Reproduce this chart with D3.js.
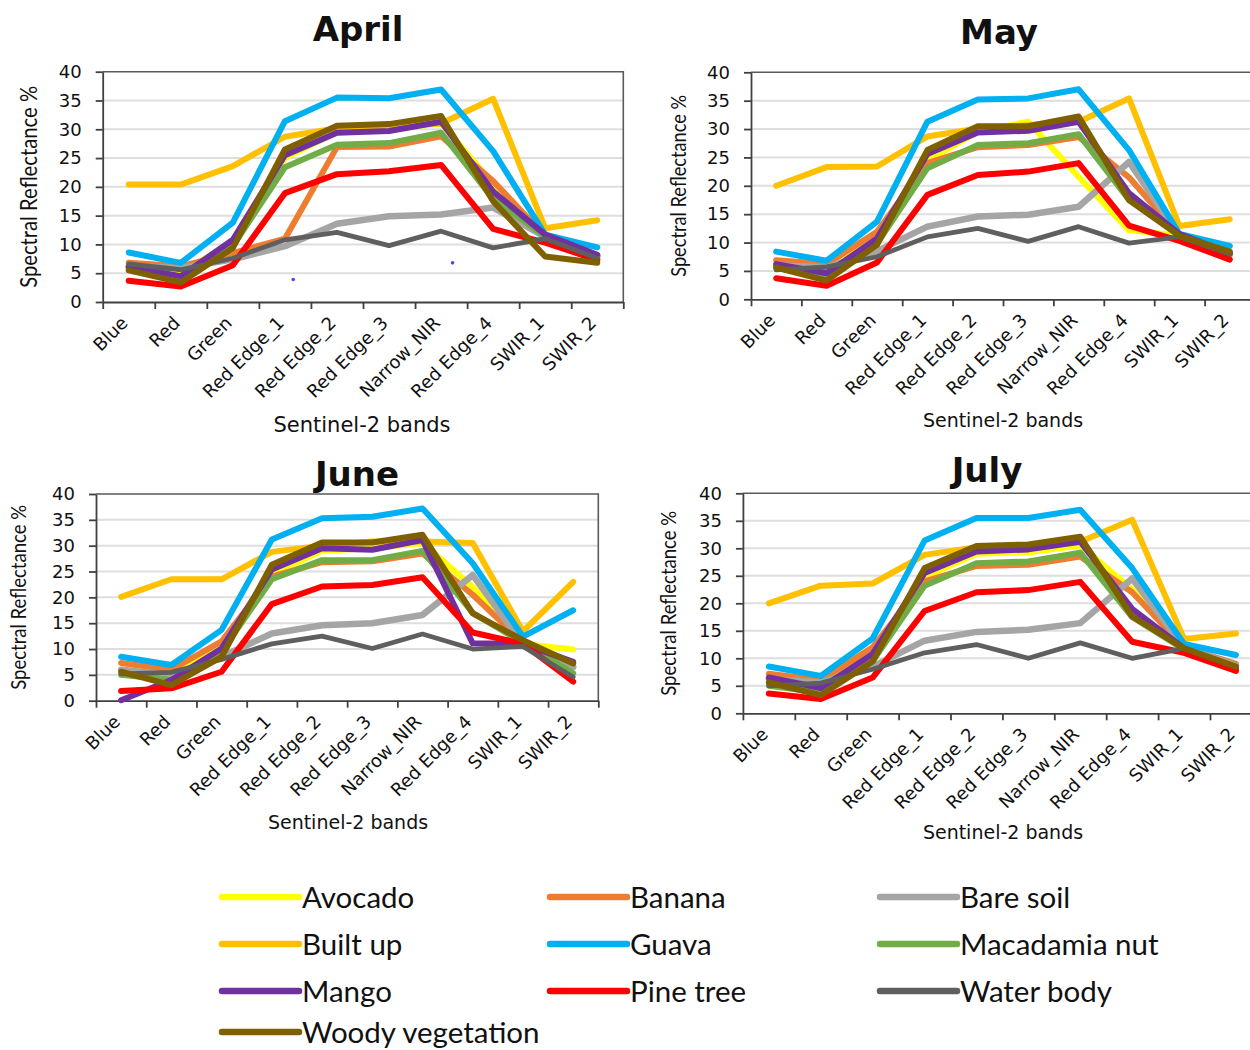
<!DOCTYPE html>
<html>
<head>
<meta charset="utf-8">
<script src="https://cdn.jsdelivr.net/npm/d3@7"></script>
<style>
  body { margin: 0; background: #fff; }
  svg { display: block; }
</style>
</head>
<body>
<svg id="chart" width="1250" height="1050"></svg>
<script>
// Sentinel-2 bands on the x axis
const bands = ["Blue", "Red", "Green", "Red Edge_1", "Red Edge_2", "Red Edge_3",
               "Narrow_NIR", "Red Edge_4", "SWIR_1", "SWIR_2"];

// Land-cover classes, in legend / drawing order
const classes = ["Avocado", "Banana", "Bare soil", "Built up", "Guava",
                 "Macadamia nut", "Mango", "Pine tree", "Water body", "Woody vegetation"];
const classColors = ["#FFFF00", "#ED7D31", "#A5A5A5", "#FFC000", "#00B0F0",
                     "#70AD47", "#7030A0", "#FF0000", "#5F5F5F", "#7F6000"];

const yTicks = [0, 5, 10, 15, 20, 25, 30, 35, 40];

// Spectral reflectance (%) per class, one row per class in the order above
const aprilValues = [
  [6.0, 5.0, 10.5, 25.0, 29.5, 30.0, 31.0, 20.5, 11.5, 8.0],
  [6.8, 6.2, 8.5, 11.0, 26.9, 27.0, 28.8, 21.0, 11.4, 7.6],
  [6.2, 5.9, 7.4, 9.7, 13.6, 14.9, 15.2, 16.4, 11.3, 7.9],
  [20.4, 20.4, 23.6, 28.7, 30.2, 30.6, 31.0, 35.3, 12.8, 14.2],
  [8.6, 6.8, 13.8, 31.4, 35.5, 35.4, 36.9, 26.2, 11.7, 9.5],
  [5.7, 3.9, 9.7, 23.4, 27.3, 27.6, 29.4, 17.9, 11.4, 8.0],
  [6.1, 4.5, 10.8, 25.5, 29.4, 29.7, 31.3, 19.2, 11.7, 8.2],
  [3.7, 2.7, 6.4, 18.9, 22.2, 22.7, 23.8, 12.7, 10.3, 7.3],
  [6.6, 5.6, 7.6, 10.8, 12.1, 9.8, 12.3, 9.4, 11.0, 7.6],
  [5.5, 3.4, 9.4, 26.5, 30.6, 30.9, 32.3, 17.5, 7.9, 6.8]
];

const mayValues = [
  [6.0, 6.5, 10.5, 24.5, 29.5, 31.3, 21.6, 12.2, 11.2, 8.0],
  [6.9, 6.2, 11.9, 24.0, 26.8, 27.2, 28.6, 21.5, 11.3, 7.8],
  [6.0, 5.6, 8.5, 12.8, 14.6, 14.9, 16.3, 24.2, 11.2, 8.0],
  [20.0, 23.3, 23.4, 28.7, 30.1, 30.7, 31.3, 35.4, 12.9, 14.1],
  [8.4, 6.8, 13.7, 31.3, 35.2, 35.4, 37.0, 26.3, 11.5, 9.4],
  [5.5, 4.0, 9.8, 23.1, 27.2, 27.5, 29.1, 17.5, 11.3, 8.0],
  [6.2, 4.6, 10.7, 25.6, 29.4, 29.7, 31.3, 18.7, 11.5, 8.1],
  [3.7, 2.4, 6.5, 18.4, 21.9, 22.5, 24.0, 13.0, 10.3, 7.0],
  [5.2, 5.7, 7.5, 11.0, 12.5, 10.2, 12.8, 9.9, 11.0, 8.0],
  [5.6, 3.3, 9.6, 26.3, 30.5, 30.5, 32.2, 17.5, 11.2, 8.4]
];

const juneValues = [
  [6.0, 5.8, 10.0, 24.5, 29.0, 29.5, 30.5, 22.0, 11.0, 9.9],
  [7.3, 6.0, 11.5, 24.0, 26.8, 27.0, 28.5, 20.5, 11.3, 6.5],
  [6.0, 5.0, 8.5, 13.0, 14.6, 15.0, 16.6, 24.3, 11.0, 6.5],
  [20.1, 23.5, 23.5, 28.8, 30.0, 30.8, 30.8, 30.5, 13.4, 23.0],
  [8.5, 6.9, 13.7, 31.2, 35.3, 35.6, 37.2, 26.6, 12.4, 17.5],
  [5.0, 4.0, 9.5, 23.5, 27.2, 27.2, 29.0, 17.0, 11.2, 5.3],
  [0.1, 4.0, 10.1, 25.4, 29.5, 29.2, 31.1, 11.1, 11.0, 7.5],
  [1.9, 2.4, 5.6, 18.7, 22.1, 22.4, 23.9, 13.2, 11.0, 3.7],
  [5.2, 5.5, 8.0, 11.0, 12.5, 10.1, 12.9, 10.0, 10.5, 4.6],
  [5.6, 3.0, 8.5, 26.3, 30.6, 30.6, 32.1, 16.9, 11.7, 7.2]
];

const julyValues = [
  [6.0, 6.0, 10.5, 24.8, 29.0, 29.3, 30.5, 22.5, 12.0, 8.5],
  [7.2, 6.0, 12.0, 24.0, 26.8, 27.0, 28.5, 22.0, 12.0, 9.0],
  [6.2, 5.6, 8.5, 13.2, 14.8, 15.2, 16.4, 24.5, 12.0, 8.7],
  [20.0, 23.2, 23.6, 28.8, 30.2, 30.5, 31.2, 35.2, 13.5, 14.5],
  [8.5, 6.8, 13.6, 31.4, 35.5, 35.5, 37.0, 26.4, 12.6, 10.6],
  [5.0, 3.8, 9.5, 23.2, 27.3, 27.6, 29.2, 17.5, 11.6, 8.3],
  [6.5, 4.6, 10.8, 25.5, 29.4, 29.8, 31.2, 19.0, 11.8, 8.3],
  [3.6, 2.6, 6.5, 18.6, 22.0, 22.4, 23.9, 13.0, 11.0, 7.7],
  [5.0, 5.5, 8.0, 11.0, 12.5, 10.0, 12.8, 10.0, 11.8, 8.5],
  [5.6, 3.3, 9.4, 26.4, 30.4, 30.7, 32.1, 17.6, 11.8, 8.5]
];

// Two stray marker dots in the April panel: [band position, reflectance]
const aprilStrayPoints = [[3.66, 3.9], [6.72, 6.8]];

// Panel layout (pixel frame of each plot area and its text)
const panels = [
  { title: "April", values: aprilValues, stray: aprilStrayPoints,
    left: 102.7, right: 623.3, top: 71.7, bottom: 302,
    titleX: 358, titleY: 41, yLabelX: 37, yLabelSize: 24, yLabelLen: 202,
    xTitleX: 362, xTitleY: 432, xTitleSize: 21 },
  { title: "May", values: mayValues, stray: [],
    left: 751, right: 1255, top: 72.3, bottom: 299.3,
    titleX: 999, titleY: 44, yLabelX: 686, yLabelSize: 21.5, yLabelLen: 182,
    xTitleX: 1003, xTitleY: 427, xTitleSize: 19 },
  { title: "June", values: juneValues, stray: [],
    left: 96, right: 598.3, top: 494, bottom: 700.7,
    titleX: 357, titleY: 486, yLabelX: 26, yLabelSize: 22, yLabelLen: 185,
    xTitleX: 348, xTitleY: 829, xTitleSize: 19 },
  { title: "July", values: julyValues, stray: [],
    left: 742.9, right: 1261.9, top: 493.3, bottom: 713.3,
    titleX: 987, titleY: 482, yLabelX: 676, yLabelSize: 22, yLabelLen: 185,
    xTitleX: 1003, xTitleY: 839, xTitleSize: 19 }
];

const svg = d3.select("#chart");
const axisColor = "#404040";

panels.forEach(p => {
  const g = svg.append("g");
  const x = d3.scaleBand().domain(bands).range([p.left, p.right]).padding(0);
  const xEdge = d3.scaleLinear().domain([0, bands.length]).range([p.left, p.right]);
  const y = d3.scaleLinear().domain([0, 40]).range([p.bottom, p.top]);
  const cx = b => x(b) + x.bandwidth() / 2;

  // Horizontal gridlines
  g.append("g").selectAll("line")
    .data(yTicks.filter(t => t > 0 && t < 40))
    .join("line")
    .attr("x1", p.left).attr("x2", p.right)
    .attr("y1", d => y(d)).attr("y2", d => y(d))
    .attr("stroke", "#dedede").attr("stroke-width", 2);

  // Plot frame (top and right edges)
  g.append("path")
    .attr("d", `M${p.left},${y(40)}H${p.right}V${p.bottom}`)
    .attr("fill", "none").attr("stroke", "#5a5a5a").attr("stroke-width", 1.6);

  // Y axis
  const yAxis = g.append("g")
    .attr("transform", `translate(${p.left},0)`)
    .call(d3.axisLeft(y).tickValues(yTicks).tickSize(7).tickSizeOuter(0).tickPadding(14));
  yAxis.select(".domain").attr("stroke", axisColor).attr("stroke-width", 1.8);
  yAxis.selectAll(".tick line").attr("stroke", axisColor).attr("stroke-width", 1.8);
  yAxis.selectAll(".tick text")
    .attr("font-family", "DejaVu Sans, Verdana, sans-serif")
    .attr("font-size", 18).attr("fill", "#111");

  // X axis: ticks sit on band boundaries
  const xAxis = g.append("g")
    .attr("transform", `translate(0,${p.bottom})`)
    .call(d3.axisBottom(xEdge).tickValues(d3.range(0, bands.length + 1))
      .tickSize(7).tickSizeOuter(0).tickFormat(""));
  xAxis.select(".domain").attr("stroke", axisColor).attr("stroke-width", 1.8);
  xAxis.selectAll(".tick line").attr("stroke", axisColor).attr("stroke-width", 1.8);

  // Rotated band names
  g.append("g").selectAll("text")
    .data(bands)
    .join("text")
    .attr("transform", d => `translate(${cx(d) - 9},${p.bottom + 13}) rotate(-45)`)
    .attr("text-anchor", "end")
    .attr("dy", "0.72em")
    .attr("font-family", "DejaVu Sans, Verdana, sans-serif")
    .attr("font-size", 18).attr("fill", "#111")
    .text(d => d);

  // Spectral curves
  const line = d3.line()
    .x((d, i) => cx(bands[i]))
    .y(d => y(d));
  g.append("g").selectAll("path")
    .data(p.values)
    .join("path")
    .attr("d", d => line(d))
    .attr("fill", "none")
    .attr("stroke", (d, i) => classColors[i])
    .attr("stroke-width", (d, i) => classes[i] === "Water body" ? 4.8 : (classes[i] === "Bare soil" ? 6.5 : 6))
    .attr("stroke-linejoin", "round")
    .attr("stroke-linecap", "round");

  // Stray marker dots
  g.append("g").selectAll("circle")
    .data(p.stray)
    .join("circle")
    .attr("cx", d => xEdge(d[0]))
    .attr("cy", d => y(d[1]))
    .attr("r", 1.8)
    .attr("fill", "#4646ff");

  // Titles
  g.append("text")
    .attr("x", p.titleX).attr("y", p.titleY)
    .attr("text-anchor", "middle")
    .attr("font-family", "DejaVu Sans, sans-serif")
    .attr("font-weight", "bold").attr("font-size", 34).attr("fill", "#111")
    .text(p.title);

  g.append("text")
    .attr("transform", `translate(${p.yLabelX},${(p.top + p.bottom) / 2}) rotate(-90)`)
    .attr("text-anchor", "middle")
    .attr("font-family", "Lato, sans-serif")
    .attr("font-size", p.yLabelSize).attr("fill", "#111")
    .attr("textLength", p.yLabelLen).attr("lengthAdjust", "spacingAndGlyphs")
    .text("Spectral Reflectance %");

  g.append("text")
    .attr("x", p.xTitleX).attr("y", p.xTitleY)
    .attr("text-anchor", "middle")
    .attr("font-family", "DejaVu Sans, sans-serif")
    .attr("font-size", p.xTitleSize).attr("fill", "#111")
    .text("Sentinel-2 bands");
});

// Legend: three columns, four rows
const legendCols = [222, 550, 880];
const legendRows = [897, 944, 991, 1032];
const legend = svg.append("g").selectAll("g")
  .data(classes)
  .join("g")
  .attr("transform", (d, i) => `translate(${legendCols[i % 3]},${legendRows[Math.floor(i / 3)]})`);
legend.append("line")
  .attr("x1", 0).attr("x2", 77).attr("y1", 0).attr("y2", 0)
  .attr("stroke", (d, i) => classColors[i])
  .attr("stroke-width", 6.5).attr("stroke-linecap", "round");
legend.append("text")
  .attr("x", 80).attr("dy", "0.36em")
  .attr("font-family", "Lato, sans-serif")
  .attr("font-size", 29.5).attr("fill", "#111")
  .text(d => d);
</script>
</body>
</html>
